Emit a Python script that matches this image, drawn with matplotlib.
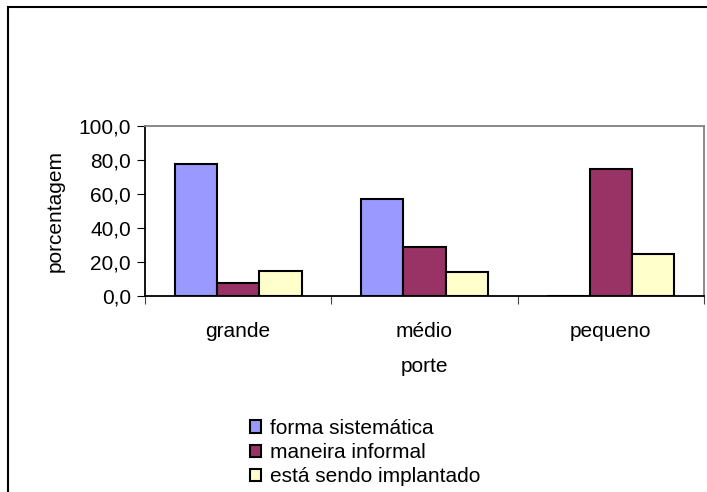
import matplotlib
matplotlib.use("Agg")
import matplotlib.pyplot as plt
import numpy as np
from matplotlib.patches import Rectangle

plt.rcParams['font.family'] = ['Liberation Sans', 'DejaVu Sans']

categories = ["grande", "médio", "pequeno"]
series_names = ["forma sistemática", "maneira informal", "está sendo implantado"]
forma_sistematica = [77.8, 57.1, 0.0]
maneira_informal = [7.4, 28.6, 75.0]
sendo_implantado = [14.8, 14.3, 25.0]
y_ticks = [0, 20, 40, 60, 80, 100]

colors = ["#9999FF", "#993366", "#FFFFCC"]
FS = 15

W, H = 707, 492
fig = plt.figure(figsize=(W / 100, H / 100), dpi=100)

# chart frame
fig.add_artist(Rectangle((8 / W, -0.1), 1.2, (H - 7) / H + 0.1, transform=fig.transFigure,
                         fill=False, edgecolor="black", linewidth=1.5))

left, right, top, bottom = 145, 704, 126, 296
ax = fig.add_axes([left / W, (H - bottom) / H, (right - left) / W, (bottom - top) / H])

x = np.arange(len(categories))
bw = 0.227
for i, (vals, c, name) in enumerate(zip([forma_sistematica, maneira_informal, sendo_implantado],
                                         colors, series_names)):
    ax.bar(x + (i - 1) * bw, vals, bw, color=c, edgecolor="black", linewidth=1.5, label=name,
           zorder=3)

ax.set_xlim(-0.5, len(categories) - 0.5)
ax.set_ylim(0, 100)
ax.set_yticks(y_ticks)
ax.set_yticklabels([f"{v:.1f}".replace(".", ",") for v in y_ticks], fontsize=FS)
ax.set_xticks(np.arange(-0.5, len(categories), 1.0))
ax.set_xticklabels([])
ax.set_xticks(x, minor=True)
ax.set_xticklabels(categories, minor=True, fontsize=FS)
ax.tick_params(axis="x", which="minor", length=0, pad=19)
ax.tick_params(axis="x", which="major", direction="out", length=6, color="#444444")
ax.tick_params(axis="y", direction="out", length=6, pad=4)

for s in ["top", "right"]:
    ax.spines[s].set_color("#808080")
    ax.spines[s].set_linewidth(1.3)
for s in ["left", "bottom"]:
    ax.spines[s].set_color("black")
    ax.spines[s].set_linewidth(1.3)

ax.set_ylabel("porcentagem", fontsize=FS)
ax.yaxis.set_label_coords((65 - left) / (right - left), 0.5)
ax.set_xlabel("porte", fontsize=FS)
ax.xaxis.set_label_coords(0.5, -(357 - bottom) / (bottom - top))

fig.legend(loc="upper left", bbox_to_anchor=(250 / W, 1 - 419 / H), frameon=False,
           fontsize=FS, handlelength=0.55, handleheight=0.55, handletextpad=0.4,
           labelspacing=0.25, borderaxespad=0, borderpad=0)

fig.savefig("out.png", dpi=100)
